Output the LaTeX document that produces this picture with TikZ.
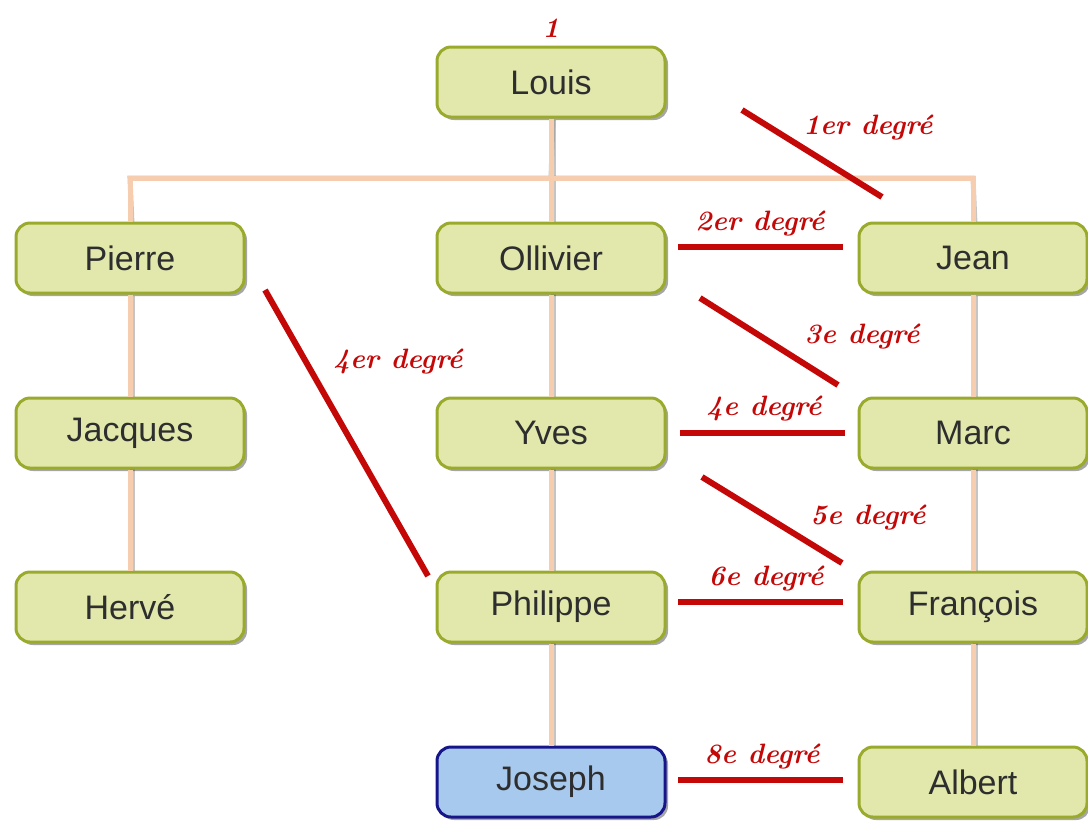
\documentclass[tikz,border=0pt]{standalone}
\usepackage{fontspec}
\newfontfamily\boxfont{Liberation Sans}
\usetikzlibrary{shadows}
\definecolor{boxfill}{HTML}{E2E8AC}
\definecolor{boxdraw}{HTML}{9AAA2C}
\definecolor{jfill}{HTML}{A8C9EE}
\definecolor{jdraw}{HTML}{16168A}
\definecolor{tan}{HTML}{F6CDAE}
\definecolor{degred}{HTML}{C40808}
\definecolor{txt}{HTML}{2E2E2E}
\tikzset{
  person/.style={draw=boxdraw, fill=boxfill, line width=1.5pt, rounded corners=7pt,
    minimum width=114pt, minimum height=35pt, inner sep=0pt,
    font=\boxfont\fontsize{17}{20}\selectfont, text=txt,
    drop shadow={shadow xshift=1.5pt, shadow yshift=-1.5pt, opacity=0.35, fill=black}},
  selfbox/.style={person, draw=jdraw, fill=jfill},
  link/.style={draw=tan, line width=2.5pt, line join=miter},
  linkshadow/.style={draw=black!45, line width=2.5pt, opacity=0.5, line join=miter},
  deg/.style={draw=degred, line width=3pt},
  deglabel/.style={text=degred, font=\bfseries\itshape\fontsize{14}{16}\selectfont, inner sep=0pt}
}
\begin{document}
\begin{tikzpicture}[x=0.5pt,y=-0.5pt]
\useasboundingbox (0,0) rectangle (1088,821);
% coordinates of the tree bar
\coordinate (barL) at (130,178);
\coordinate (barM) at (551,178);
\coordinate (barR) at (973,178);
% connector shadows (under boxes)
\begin{scope}[shift={(2,2)}]
  \draw[linkshadow] (551,118) -- (barM);
  \draw[linkshadow] (130,222) -- (barL) -- (barR) -- (973,222);
  \draw[linkshadow] (130,294) -- (130,571);
  \draw[linkshadow] (551,118) -- (551,746);
  \draw[linkshadow] (973,294) -- (973,746);
\end{scope}
% nodes
\node[person] (L) at (551,82) {Louis};
\node[person] (P) at (130,258) {Pierre};
\node[person] (O) at (551,258) {Ollivier};
\node[person] (Je) at (973,258) {Jean};
\node[person] (Jq) at (130,433) {Jacques};
\node[person] (Y) at (551,433) {Yves};
\node[person] (M) at (973,433) {Marc};
\node[person] (H) at (130,607) {Hervé};
\node[person] (Ph) at (551,607) {Philippe};
\node[person] (F) at (973,607) {François};
\node[selfbox] (Jo) at (551,782) {Joseph};
\node[person] (A) at (973,782) {Albert};
% tree links
\draw[link] (L.south) -- (barM);
\draw[link] (P.north) -- (barL) -- (barR) -- (Je.north);
\draw[link] (barM) -- (O.north);
\draw[link] (P.south) -- (Jq.north);
\draw[link] (Jq.south) -- (H.north);
\draw[link] (O.south) -- (Y.north);
\draw[link] (Y.south) -- (Ph.north);
\draw[link] (Ph.south) -- (Jo.north);
\draw[link] (Je.south) -- (M.north);
\draw[link] (M.south) -- (F.north);
\draw[link] (F.south) -- (A.north);
% degree marks
\node[deglabel] (d0) at (551,28) {1};
\coordinate (a1) at (742,110); \coordinate (b1) at (882,197);
\draw[deg] (a1) -- (b1);
\node[deglabel] (t1) at (868,128) {1er degré};
\coordinate (a2) at (678,247); \coordinate (b2) at (843,247);
\draw[deg] (a2) -- (b2);
\node[deglabel] (t2) at (760,224) {2er degré};
\coordinate (a3) at (700,298); \coordinate (b3) at (838,385);
\draw[deg] (a3) -- (b3);
\node[deglabel] (t3) at (862,337) {3e degré};
\coordinate (a4) at (265,290); \coordinate (b4) at (428,576);
\draw[deg] (a4) -- (b4);
\node[deglabel] (t4) at (398,362) {4er degré};
\coordinate (a5) at (680,433); \coordinate (b5) at (845,433);
\draw[deg] (a5) -- (b5);
\node[deglabel] (t5) at (764,409) {4e degré};
\coordinate (a6) at (702,477); \coordinate (b6) at (842,563);
\draw[deg] (a6) -- (b6);
\node[deglabel] (t6) at (868,518) {5e degré};
\coordinate (a7) at (678,602); \coordinate (b7) at (843,602);
\draw[deg] (a7) -- (b7);
\node[deglabel] (t7) at (766,579) {6e degré};
\coordinate (a8) at (678,780); \coordinate (b8) at (843,780);
\draw[deg] (a8) -- (b8);
\node[deglabel] (t8) at (762,757) {8e degré};
\end{tikzpicture}
\end{document}
